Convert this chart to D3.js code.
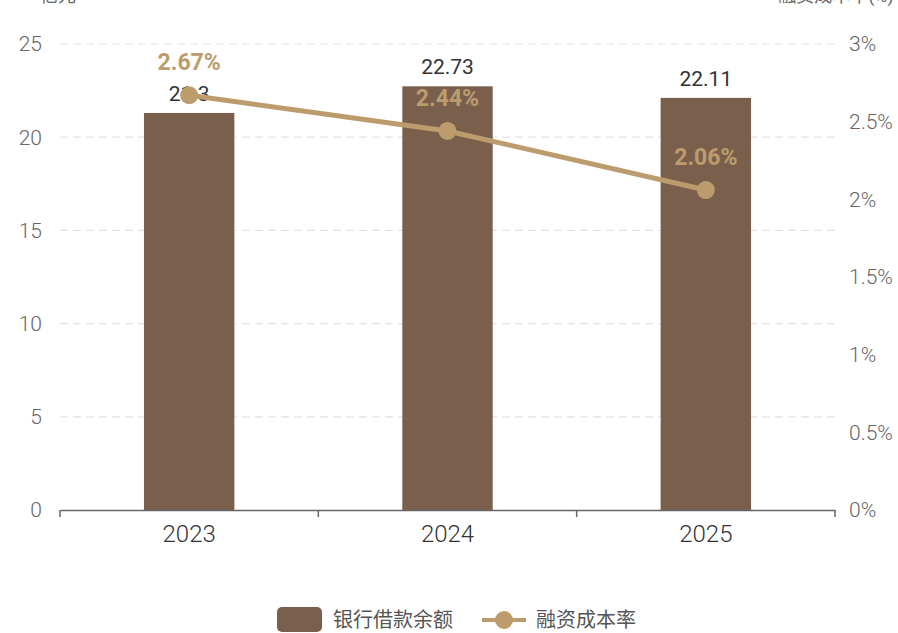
<!DOCTYPE html>
<html><head><meta charset="utf-8">
<script src="https://cdn.jsdelivr.net/npm/d3@7"></script>
<style>
body{margin:0;background:#fff;}
text{font-family:Roboto,"Noto Sans CJK SC",sans-serif;}
</style></head>
<body><svg id="c" width="898" height="633"></svg>
<script>
const categories = ["2023","2024","2025"];
const loanBalance = [21.3, 22.73, 22.11];
const financingCost = [2.67, 2.44, 2.06];
const leftTicks = [0,5,10,15,20,25];
const rightTicks = [0,0.5,1,1.5,2,2.5,3];
const seriesNames = ["银行借款余额","融资成本率"];
const axisTitles = ["亿元","融资成本率(%)"];

const svg = d3.select("#c");
const L=60, R=835, T=44, B=510;
const x = d3.scaleBand().domain(categories).range([L,R]).paddingInner(0.65).paddingOuter(0.325);
const xc = d3.scaleBand().domain(categories).range([L,R]);
const y = d3.scaleLinear().domain([0,25]).range([B,T]);
const y2 = d3.scaleLinear().domain([0,3]).range([B,T]);
const barColor="#7a604c", lineColor="#bc9c6c";

// grid
svg.append("g").selectAll("line").data(leftTicks.filter(d=>d>0)).join("line")
 .attr("x1",L).attr("x2",R).attr("y1",d=>y(d)).attr("y2",d=>y(d))
 .attr("stroke","#e3e3e3").attr("stroke-width",1.2).attr("stroke-dasharray","8,5");

// left axis labels
svg.append("g").selectAll("text").data(leftTicks).join("text")
 .attr("x",42).attr("y",d=>y(d)).attr("dy","0.35em").attr("text-anchor","end")
 .attr("font-size",21).attr("font-weight",300).attr("fill","#666").text(d=>d);
// right axis labels
svg.append("g").selectAll("text").data(rightTicks).join("text")
 .attr("x",849).attr("y",d=>y2(d)).attr("dy","0.35em").attr("text-anchor","start")
 .attr("font-size",21).attr("font-weight",300).attr("fill","#666").text(d=>d+"%");

// axis titles (clipped at top, as in the reference)
svg.append("text").attr("x",58).attr("y",2).attr("text-anchor","middle").attr("font-size",18).attr("fill","#666").attr("font-family","Noto Sans CJK SC").text(axisTitles[0]);
svg.append("text").attr("x",836).attr("y",2).attr("text-anchor","middle").attr("font-size",18).attr("fill","#666").attr("font-family","Noto Sans CJK SC").text(axisTitles[1]);

// bars
svg.append("g").selectAll("rect").data(categories).join("rect")
 .attr("x",d=>x(d)).attr("width",x.bandwidth())
 .attr("y",(d,i)=>y(loanBalance[i])).attr("height",(d,i)=>B-y(loanBalance[i]))
 .attr("fill",barColor);

// x axis
const xa = svg.append("g").attr("transform",`translate(0,${B})`)
 .call(d3.axisBottom(xc).tickSize(0).tickPadding(15));
xa.select(".domain").attr("stroke","#666").attr("stroke-width",1.5);
xa.selectAll("text").attr("font-size",24).attr("font-weight",300).attr("fill","#333").attr("font-family","Roboto, sans-serif");
svg.append("g").selectAll("line").data([L, ...categories.map(c=>xc(c)+xc.bandwidth())]).join("line")
 .attr("x1",d=>d).attr("x2",d=>d).attr("y1",B).attr("y2",B+7).attr("stroke","#666").attr("stroke-width",1.5);

// bar labels
svg.append("g").selectAll("text").data(categories).join("text")
 .attr("x",d=>xc(d)+xc.bandwidth()/2).attr("y",(d,i)=>y(loanBalance[i])-12)
 .attr("text-anchor","middle").attr("font-size",21).attr("fill","#333").text((d,i)=>loanBalance[i]);

// line
const cx = d=>xc(d)+xc.bandwidth()/2;
svg.append("path").datum(categories)
 .attr("d",d3.line().x(d=>cx(d)).y((d,i)=>y2(financingCost[i])))
 .attr("fill","none").attr("stroke",lineColor).attr("stroke-width",5);
svg.append("g").selectAll("circle").data(categories).join("circle")
 .attr("cx",cx).attr("cy",(d,i)=>y2(financingCost[i])).attr("r",9).attr("fill",lineColor);
svg.append("g").selectAll("text").data(categories).join("text")
 .attr("x",cx).attr("y",(d,i)=>y2(financingCost[i])-25)
 .attr("text-anchor","middle").attr("font-size",23).attr("font-weight","bold").attr("fill",lineColor)
 .text((d,i)=>financingCost[i]+"%");

// legend
const lg = svg.append("g");
lg.append("rect").attr("x",277).attr("y",607).attr("width",45).attr("height",25).attr("rx",5).attr("fill",barColor);
lg.append("text").attr("x",333).attr("y",620).attr("dy","0.35em").attr("font-size",20).attr("fill","#555").attr("font-family","Noto Sans CJK SC").text(seriesNames[0]);
lg.append("line").attr("x1",482).attr("x2",526).attr("y1",620).attr("y2",620).attr("stroke",lineColor).attr("stroke-width",4);
lg.append("circle").attr("cx",504).attr("cy",620).attr("r",9).attr("fill",lineColor);
lg.append("text").attr("x",536).attr("y",620).attr("dy","0.35em").attr("font-size",20).attr("fill","#555").attr("font-family","Noto Sans CJK SC").text(seriesNames[1]);
</script></body></html>
